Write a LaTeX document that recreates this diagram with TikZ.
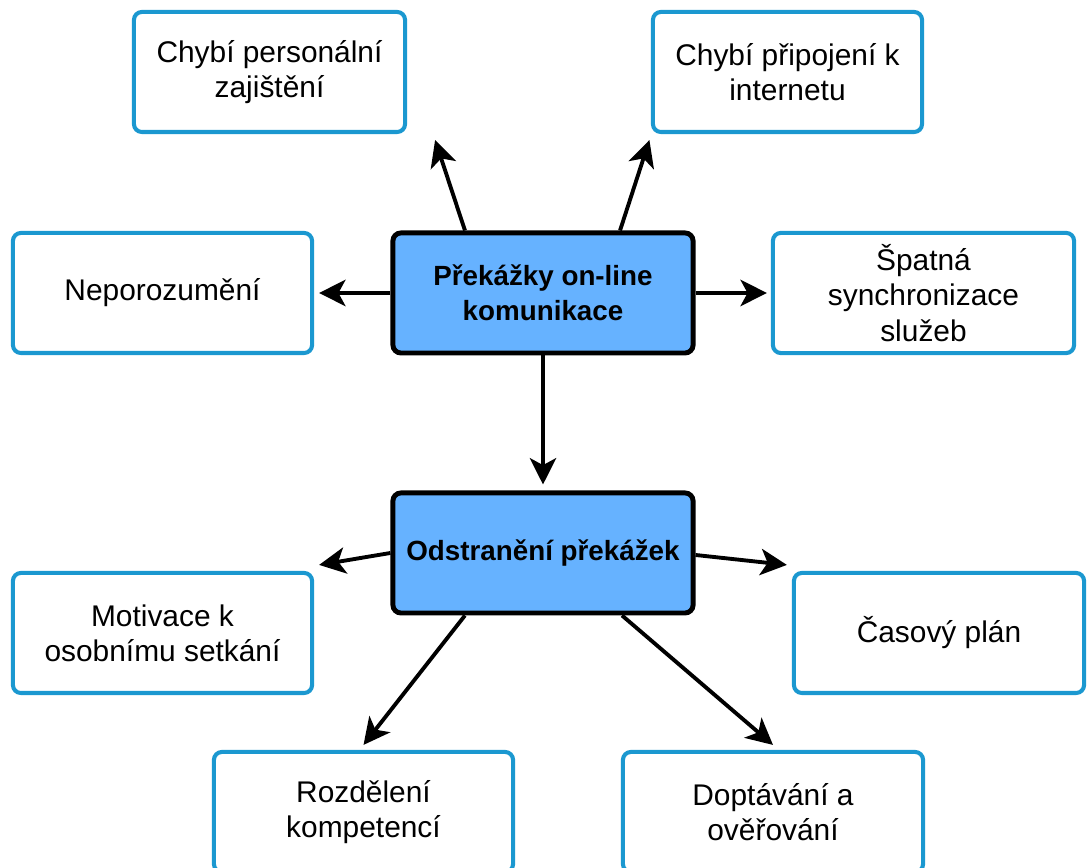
\documentclass[tikz,border=0pt]{standalone}
\usepackage{fontspec}
\setmainfont{Liberation Sans}
\usetikzlibrary{arrows.meta}
\definecolor{boxblue}{RGB}{27,152,208}
\definecolor{hubfill}{HTML}{66B2FF}
\begin{document}
\begin{tikzpicture}[x=0.01cm, y=-0.01cm,
    main/.style = {draw=boxblue, line width=1.15pt, rounded corners=0.08cm, fill=white,
                   minimum width=3cm, minimum height=1.2cm, align=center,
                   font=\fontsize{8.5pt}{10pt}\selectfont},
    hub/.style = {draw=black, line width=1.4pt, rounded corners=0.08cm, fill=hubfill,
                  minimum width=3cm, minimum height=1.2cm, align=center,
                  font=\bfseries\fontsize{7.9pt}{10pt}\selectfont},
    arr/.style = {line width=1.1pt, -{Stealth[length=7.5pt, width=7.5pt, inset=2pt]}}]
    \useasboundingbox (0,0) rectangle (1087,868);
    % upper part
    \node[hub] (prek) at (543,293) {Překážky on-line\\komunikace};
    \node[main, minimum width=2.71cm] (cp) at (269.5,72) {Chybí personální\\zajištění};
    \node[main, minimum width=2.69cm] (ci) at (787.5,72) {Chybí připojení k\\internetu};
    \node[main, minimum width=2.99cm] (nep) at (162.5,293) {Neporozumění};
    \node[main, minimum width=3.01cm] (spat) at (923.5,293) {Špatná\\synchronizace\\služeb};
    % lower part
    \node[hub] (odst) at (543,553) {Odstranění překážek};
    \node[main, minimum width=2.99cm] (mot) at (162.5,633) {Motivace k\\osobnímu setkání};
    \node[main, minimum width=2.9cm] (cas) at (939,633) {Časový plán};
    \node[main, minimum width=2.99cm] (roz) at (363.5,812) {Rozdělení\\kompetencí};
    \node[main] (dop) at (773,812) {Doptávání a\\ověřování};
    % arrows
    \draw[arr] ([xshift=-0.78cm]prek.north) -- ([xshift=1.655cm, yshift=-0.06cm]cp.south);
    \draw[arr] ([xshift=0.77cm]prek.north) -- ([xshift=-1.38cm, yshift=-0.06cm]ci.south);
    \draw[arr] (prek.west) -- ([xshift=0.05cm]nep.east);
    \draw[arr] (prek.east) -- ([xshift=-0.04cm]spat.west);
    \draw[arr] (prek.south) -- ([yshift=0.06cm]odst.north);
    \draw[arr] (odst.west) -- ([xshift=0.05cm, yshift=0.06cm]mot.north east);
    \draw[arr] ([yshift=-0.02cm]odst.east) -- ([xshift=-0.05cm, yshift=0.06cm]cas.north west);
    \draw[arr] ([xshift=-0.78cm]odst.south) -- ([yshift=0.05cm]roz.north);
    \draw[arr] ([xshift=0.79cm]odst.south) -- ([yshift=0.05cm]dop.north);
\end{tikzpicture}
\end{document}
